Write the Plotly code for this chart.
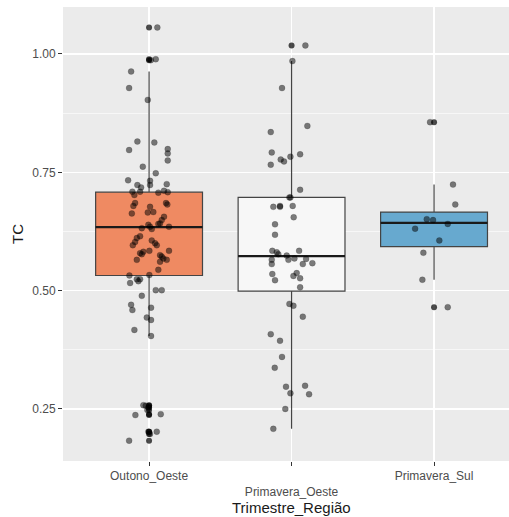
import plotly.graph_objects as go

# ---------------- data ----------------
categories = ["Outono_Oeste", "Primavera_Oeste", "Primavera_Sul"]
tick_labels = ["Outono_Oeste", " <br>Primavera_Oeste", "Primavera_Sul"]
y_tick_vals = [0.25, 0.50, 0.75, 1.00]
y_tick_text = ["0.25", "0.50", "0.75", "1.00"]

outono_tc = [1.056, 0.987, 0.989, 0.963, 0.928, 0.903, 0.815, 0.813, 0.797, 0.799,
             0.790, 0.775, 0.762, 0.748, 0.733, 0.732, 0.723, 0.723, 0.718, 0.725,
             0.709, 0.702, 0.709, 0.707, 0.711, 0.708, 0.685, 0.679, 0.677, 0.685,
             0.682, 0.663, 0.665, 0.666, 0.656, 0.649, 0.642, 0.641, 0.639, 0.635,
             0.635, 0.632, 0.630, 0.615, 0.611, 0.603, 0.596, 0.606, 0.600, 0.596,
             0.582, 0.577, 0.579, 0.584, 0.584, 0.575, 0.572, 0.568, 0.565, 0.561,
             0.565, 0.544, 0.532, 0.533, 0.524, 0.524, 0.516, 0.520, 0.501, 0.501,
             0.489, 0.470, 0.459, 0.464, 0.443, 0.438, 0.417, 0.404,
             0.258, 0.257, 0.253, 0.248, 0.237, 0.239, 0.202, 0.197, 0.202, 0.183]
outono_jit = [0.058, 0.012, 0.047, -0.126, -0.140, -0.009, -0.082, 0.037, -0.140, 0.131,
              0.131, 0.131, -0.044, 0.047, -0.147, 0.007, 0.007, -0.082, -0.056, 0.124,
              -0.117, -0.103, -0.063, 0.065, 0.105, 0.131, -0.098, -0.110, 0.007, 0.119,
              0.128, -0.121, -0.009, 0.030, 0.105, 0.089, 0.077, 0.065, -0.005, 0.007,
              0.140, -0.051, 0.019, -0.063, -0.086, -0.098, -0.114, 0.019, 0.042, 0.054,
              -0.040, -0.051, -0.063, 0.002, 0.140, 0.077, 0.089, 0.100, 0.124, 0.077,
              -0.086, 0.065, -0.138, 0.002, -0.063, -0.086, -0.133, -0.075, 0.047, 0.089,
              -0.051, -0.126, -0.117, 0.014, -0.016, 0.014, -0.103, 0.014,
              -0.040, -0.023, -0.005, -0.012, -0.096, 0.082, -0.005, 0.007, 0.054, -0.140]

oeste_tc = [1.018, 0.985, 0.928, 0.848, 0.835, 0.792, 0.777, 0.773, 0.783, 0.788,
            0.766, 0.713, 0.697, 0.697, 0.677, 0.679, 0.677, 0.679, 0.655, 0.640,
            0.618, 0.584, 0.581, 0.577, 0.574, 0.565, 0.568, 0.584, 0.567, 0.556,
            0.558, 0.565, 0.556, 0.535, 0.522, 0.531, 0.537, 0.526, 0.507, 0.472,
            0.468, 0.445, 0.408, 0.394, 0.360, 0.337, 0.297, 0.299, 0.283, 0.281,
            0.250, 0.208]
oeste_jit = [0.097, 0.006, -0.067, 0.111, -0.146, -0.139, -0.076, -0.053, -0.008, 0.060,
             -0.146, 0.060, -0.015, -0.008, -0.128, -0.081, -0.081, 0.008, 0.015, -0.116,
             -0.116, -0.135, -0.104, -0.093, -0.034, -0.022, 0.020, 0.053, 0.102, 0.079,
             0.146, -0.139, -0.139, -0.135, -0.116, 0.013, 0.036, 0.060, 0.060, -0.015,
             0.013, 0.079, -0.146, -0.081, -0.067, -0.118, -0.039, 0.095, -0.008, 0.123,
             -0.044, -0.128]

sul_tc = [0.856, 0.724, 0.682, 0.651, 0.649, 0.641, 0.631, 0.606, 0.580, 0.523, 0.465]
sul_jit = [-0.028, 0.133, 0.149, -0.051, -0.007, 0.096, -0.133, 0.037, -0.075, -0.082, 0.096]

q1 = [0.532, 0.499, 0.593]
median = [0.634, 0.573, 0.643]
q3 = [0.708, 0.697, 0.666]

fill_colors = ["#EF8A62", "#F7F7F7", "#67A9CF"]

# ---------------- figure ----------------
values = [outono_tc, oeste_tc, sul_tc]
jitters = [outono_jit, oeste_jit, sul_jit]
box_w = 0.75

fig = go.Figure()
out_x, out_y = [], []
for i, (vals, lo, me, hi) in enumerate(zip(values, q1, median, q3)):
    iqr = hi - lo
    upper = max(v for v in vals if v <= hi + 1.5 * iqr)
    lower = min(v for v in vals if v >= lo - 1.5 * iqr)
    outs = [v for v in vals if v > upper or v < lower]
    out_x += [i] * len(outs)
    out_y += outs
    fig.add_trace(go.Box(
        x=[i], q1=[lo], median=[me], q3=[hi], lowerfence=[lower], upperfence=[upper],
        width=box_w, fillcolor=fill_colors[i], whiskerwidth=0,
        line=dict(color="#444444", width=1.2),
        boxpoints=False, showlegend=False, hoverinfo="skip",
    ))
    fig.add_trace(go.Scatter(
        x=[i - box_w / 2, i + box_w / 2], y=[me, me], mode="lines",
        line=dict(color="#1a1a1a", width=2.2), showlegend=False, hoverinfo="skip",
    ))

# boxplot outliers (drawn at the category centre)
fig.add_trace(go.Scatter(
    x=out_x, y=out_y, mode="markers",
    marker=dict(color="rgba(0,0,0,0.7)", size=6, line=dict(width=0)),
    showlegend=False, hoverinfo="skip",
))

# jittered points
jx, jy = [], []
for i, (vals, jit) in enumerate(zip(values, jitters)):
    jx += [i + j for j in jit]
    jy += vals
fig.add_trace(go.Scatter(
    x=jx, y=jy, mode="markers",
    marker=dict(color="rgba(0,0,0,0.5)", size=6, line=dict(width=0.6, color="rgba(0,0,0,0.25)")),
    showlegend=False, hoverinfo="skip",
))

font_family = "Liberation Sans, Arial, sans-serif"
fig.update_layout(
    width=509, height=517,
    margin=dict(l=63, r=0, t=7, b=56),
    paper_bgcolor="white", plot_bgcolor="#EBEBEB",
    font=dict(family=font_family, color="#4D4D4D", size=12),
    hovermode=False,
    xaxis=dict(
        range=[-0.604, 2.526], tickvals=[0, 1, 2], ticktext=tick_labels,
        showgrid=True, gridcolor="white", gridwidth=1.2, zeroline=False,
        ticks="outside", ticklen=4, tickcolor="#333333", tickwidth=1,
        tickfont=dict(size=12, color="#4D4D4D"), showline=False,
    ),
    yaxis=dict(
        range=[0.140, 1.0993], tickvals=y_tick_vals, ticktext=y_tick_text,
        showgrid=True, gridcolor="white", gridwidth=1.2, zeroline=False,
        ticks="outside", ticklen=4, tickcolor="#333333", tickwidth=1,
        tickfont=dict(size=12, color="#4D4D4D"), showline=False,
        minor=dict(dtick=0.125, tick0=0.125, showgrid=True, gridcolor="white",
                   gridwidth=0.6, ticks=""),
        title=dict(text="TC", font=dict(size=15, color="#1a1a1a"), standoff=4),
    ),
    annotations=[dict(
        text="Trimestre_Região", xref="x", x=1, yref="paper", y=-0.1035,
        xanchor="center", yanchor="middle", showarrow=False,
        font=dict(size=15, color="#1a1a1a", family=font_family),
    )],
)

fig.write_html(
    "out.html",
    config={"displayModeBar": False, "staticPlot": True},
    post_script="document.body.style.margin='0';document.body.style.overflow='hidden';",
)
